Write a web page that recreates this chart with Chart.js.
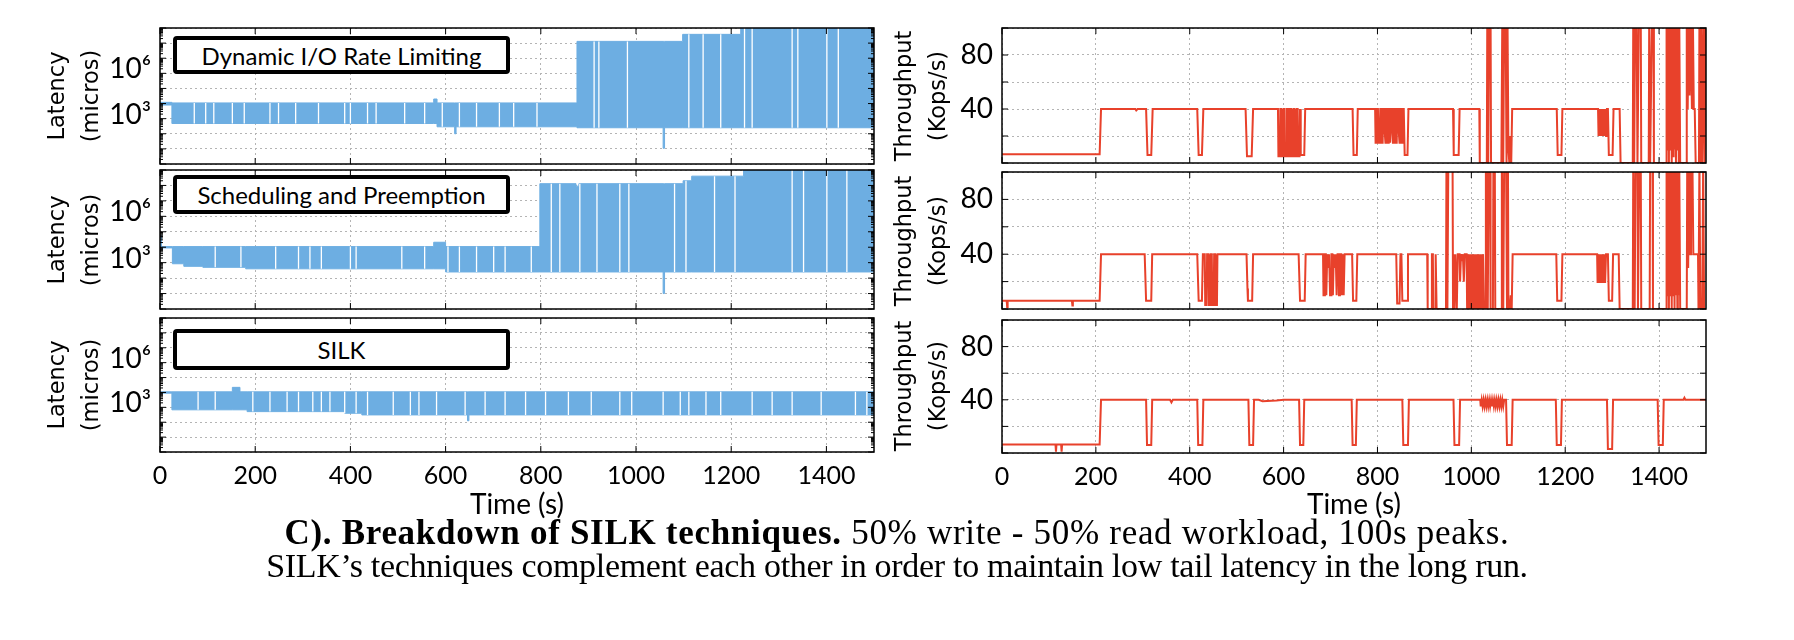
<!DOCTYPE html>
<html>
<head>
<meta charset="utf-8">
<script src="https://cdn.jsdelivr.net/npm/chart.js@4.4.0/dist/chart.umd.min.js"></script>
<style>
  body { margin: 0; background: #fff; }
  #page { position: relative; width: 1794px; height: 640px; overflow: hidden; background: #fff; }
  canvas { position: absolute; }
  .ytitle { position: absolute; font-family: 'DejaVu Sans', sans-serif; font-size: 22.5px; line-height: 34px;
            text-align: center; white-space: nowrap; color: #000; transform: translate(-50%, -50%) rotate(-90deg); }
  .xtitle { position: absolute; font-family: Lato, sans-serif; font-size: 28px; white-space: nowrap;
            transform: translate(-50%, -50%); }
  .tag { position: absolute; left: 173px; width: 337px; box-sizing: border-box; border: 4px solid #000;
         border-radius: 4px; background: #fff; font-family: Lato, sans-serif; font-size: 24px;
         display: flex; align-items: center; justify-content: center; }
  .caption { position: absolute; left: 0; width: 1794px; text-align: center; white-space: nowrap;
             font-family: 'Liberation Serif', 'Times New Roman', serif; font-size: 34px; line-height: 33px; }
</style>
</head>
<body>
<div id="page">
  <canvas id="lat1" width="880" height="144" style="left:0;top:24px"></canvas>
  <canvas id="lat2" width="880" height="147" style="left:0;top:166px"></canvas>
  <canvas id="lat3" width="880" height="182" style="left:0;top:314px"></canvas>
  <canvas id="tp1" width="832" height="143" style="left:880px;top:24px"></canvas>
  <canvas id="tp2" width="832" height="145" style="left:880px;top:168px"></canvas>
  <canvas id="tp3" width="832" height="181" style="left:880px;top:316px"></canvas>

  <div class="ytitle" style="left:73px;top:96px">Latency<br>(micros)</div>
  <div class="ytitle" style="left:73px;top:240px">Latency<br>(micros)</div>
  <div class="ytitle" style="left:73px;top:385px">Latency<br>(micros)</div>
  <div class="ytitle" style="left:920px;top:96px">Throughput<br>(Kops/s)</div>
  <div class="ytitle" style="left:920px;top:241px">Throughput<br>(Kops/s)</div>
  <div class="ytitle" style="left:920px;top:386px">Throughput<br>(Kops/s)</div>

  <div class="tag" style="top:36px;height:38px">Dynamic I/O Rate Limiting</div>
  <div class="tag" style="top:175px;height:39px">Scheduling and Preemption</div>
  <div class="tag" style="top:329px;height:41px">SILK</div>

  <div class="xtitle" style="left:517px;top:503px">Time (s)</div>
  <div class="xtitle" style="left:1354px;top:503px">Time (s)</div>

  <div class="caption" style="top:516px;font-size:35px;letter-spacing:0.7px"><b>C). Breakdown of SILK techniques.</b> 50% write - 50% read workload, 100s peaks.</div>
  <div class="caption" style="top:549px;letter-spacing:-0.3px">SILK’s techniques complement each other in order to maintain low tail latency in the long run.</div>
</div>

<script>
// axis ticks
const xTicks = [0, 200, 400, 600, 800, 1000, 1200, 1400];
const latTicks = [1, 10, 100, 1e3, 1e4, 1e5, 1e6, 1e7, 1e8, 1e9];
const latTickLabels = { 1000: '10³', 1000000: '10⁶' };
const tpTicks = [0, 20, 40, 60, 80, 100];
const tpTickLabels = [40, 80];

// latency band (micros): segment start times, upper and lower envelope
const latTime1 = [0, 25, 575, 582, 619, 622, 876, 1057, 1060, 1098, 1220, 1500];
const latHigh1 = [12000, 11000, 20000, 11000, 11000, 11000, 1.3e8, 1.3e8, 1.3e8, 3.8e8, 2e9, 2e9];
const latLow1 = [8000, 480, 480, 290, 100, 290, 250, 11, 250, 250, 250, 250];
const latGaps1 = [72, 96, 113, 152, 177, 231, 249, 285, 333, 388, 400, 436, 454, 514, 556, 593, 629, 665,
  713, 743, 792, 912, 922, 982, 1111, 1141, 1178, 1228, 1244, 1328, 1340, 1401, 1425];

const latTime2 = [0, 3, 26, 50, 90, 180, 575, 600, 798, 874, 880, 1057, 1060, 1099, 1117, 1226, 1500];
const latHigh2 = [56000, 11000, 11000, 11000, 11000, 11000, 21000, 11000, 1.3e8, 9e7, 1.3e8, 1.3e8, 1.3e8, 2e8, 4e8, 2e9, 2e9];
const latLow2 = [11000, 9000, 850, 580, 500, 400, 400, 250, 250, 250, 250, 10, 250, 250, 250, 250, 250];
const latGaps2 = [116, 170, 243, 291, 315, 339, 400, 412, 508, 556, 605, 629, 665, 701, 725, 780, 822, 840,
  882, 918, 966, 985, 1081, 1105, 1165, 1208, 1328, 1352, 1401, 1443];

const latTime3 = [0, 25, 152, 168, 183, 388, 424, 646, 649, 1500];
const latHigh3 = [11000, 11000, 22000, 11000, 11000, 11000, 11000, 11000, 11000, 11000];
const latLow3 = [9000, 680, 680, 680, 515, 400, 310, 125, 310, 310];
const latGaps3 = [80, 116, 195, 231, 267, 291, 321, 339, 357, 388, 412, 436, 490, 526, 544, 581, 641, 683,
  725, 768, 810, 858, 906, 966, 991, 1057, 1093, 1111, 1147, 1178, 1244, 1286, 1328, 1389, 1461, 1485];

// throughput (Kops/s): [time, value]; values above 100 run off the top of the panel
const throughput1 = [[0,6.5],[208,6.5],[211,40],[284,40],[286,39],[289,40],[307,40],[310,6],[318,6],[321,40],
  [416,40],[419,6],[426,6],[429,40],[519,40],[522,5],[532,5],[535,40],
  [588,40],[589,5],[592,5],[593,40],[595,40],[596,5],[599,5],[600,40],[602,40],[603,5],[606,5],[607,40],
  [609,40],[610,5],[612,5],[613,40],[616,40],[617,5],[620,5],[621,40],[623,40],[624,5],[627,5],[628,40],
  [630,40],[631,5],[634,5],[635,40],[636,40],[637,6],[644,6],[646,40],
  [747,40],[749,6],[756,6],[758,40],[794,40],[795,40],[796,15],[798,15],[799,40],[801,40],[802,25],[803,15],
  [805,15],[806,40],[808,40],[809,15],[811,15],[812,40],[814,40],[815,25],[817,15],[818,40],[820,40],[821,15],
  [823,15],[824,40],[826,40],[827,15],[829,25],[830,40],[832,40],[833,15],[835,15],[836,40],[838,40],[839,15],
  [841,15],[842,40],[844,40],[845,25],[847,15],[848,40],[850,40],[851,15],[853,15],[854,40],
  [856,40],[858,6],[864,6],[866,40],[961,40],[962,25],[963,6],[973,6],[975,40],[1017,40],
  [1018,0],[1033,0],[1034,110],[1036,0],[1038,110],[1041,110],[1042,0],[1064,0],[1066,110],[1068,0],
  [1070,110],[1073,110],[1075,0],[1077,110],[1079,10],[1081,0],[1083,20],[1085,0],[1087,40],
  [1182,40],[1184,6],[1192,6],[1194,40],[1270,40],[1271,20],[1273,40],[1275,20],[1277,40],[1279,20],[1281,40],
  [1283,20],[1285,40],[1287,20],[1289,40],[1291,40],[1293,6],[1301,6],[1303,40],[1316,40],[1318,0],
  [1344,0],[1345,110],[1347,0],[1349,110],[1352,110],[1354,0],[1357,110],[1361,110],[1362,0],[1378,0],
  [1379,110],[1381,0],[1385,110],[1388,110],[1389,0],[1415,0],
  [1416,110],[1418,10],[1419,110],[1421,0],[1422,110],[1424,10],[1425,110],[1427,0],[1428,110],[1430,5],
  [1431,110],[1433,10],[1434,110],[1436,0],[1437,110],[1439,10],[1440,110],[1442,0],[1443,110],[1445,0],
  [1458,0],[1459,110],[1461,40],[1463,110],[1465,50],[1467,110],[1470,40],[1472,110],[1474,40],[1476,40],
  [1478,0],[1485,0],[1486,110],[1488,0],[1490,110],[1492,0],[1495,110],[1497,0],[1499,110],[1500,110]];

const throughput2 = [[0,6],[10,6],[11,1.5],[12,6],[149,6],[150,2.5],[151,6],[208,6],[211,40],[304,40],[307,6],
  [318,6],[320,40],[416,40],[419,6],[426,6],[428,40],[432,40],[433,3],[436,3],[437,40],[440,40],[441,3],
  [444,3],[445,40],[447,40],[448,3],[451,3],[452,40],[454,40],[455,3],[458,3],[459,40],
  [521,40],[523,15],[524,6],[533,6],[535,40],[632,40],[635,6],[645,6],[647,40],[684,40],
  [685,10],[687,10],[688,40],[690,40],[691,10],[693,40],[695,30],[697,40],[699,10],[701,10],[702,40],
  [704,40],[705,10],[707,40],[709,30],[711,40],[713,10],[715,40],[717,40],[718,10],[720,10],[721,40],
  [723,40],[724,10],[726,40],[728,10],[730,40],
  [746,40],[748,6],[755,6],[757,40],[840,40],[842,4],[847,4],[849,40],[851,40],[853,6],[863,6],[865,40],
  [906,40],[907,0],[915,0],[916,40],[918,40],[919,0],[923,0],[924,40],[926,0],[946,0],[947,110],[949,0],
  [951,110],[960,110],[961,0],[962,40],[964,0],[966,40],[969,0],[971,40],[975,40],[976,20],[978,40],
  [980,35],[982,40],[984,20],[986,40],[990,40],[991,0],[993,40],[995,0],[997,40],[999,0],[1001,40],
  [1003,0],[1005,40],[1007,0],[1009,40],[1011,0],[1013,40],[1015,0],[1017,40],[1019,0],[1021,40],
  [1023,0],[1025,40],[1027,0],[1030,0],[1031,110],[1034,110],[1035,0],[1037,110],[1040,110],[1041,0],
  [1046,0],[1047,110],[1050,110],[1051,0],[1064,0],[1065,110],[1068,0],[1070,110],[1074,110],[1076,0],
  [1078,110],[1079,5],[1082,0],[1084,10],[1086,0],[1088,40],
  [1181,40],[1183,6],[1192,6],[1194,40],[1268,40],[1269,19],[1271,40],[1273,19],[1275,40],[1277,19],
  [1279,40],[1281,19],[1283,40],[1285,19],[1287,40],[1291,40],[1293,6],[1300,6],[1302,40],[1314,40],
  [1316,0],[1344,0],[1345,110],[1348,0],[1350,110],[1354,110],[1355,0],[1358,110],[1361,110],[1362,0],
  [1380,0],[1381,110],[1386,110],[1387,0],[1415,0],
  [1416,110],[1418,10],[1419,110],[1421,0],[1422,110],[1424,10],[1425,110],[1427,0],[1428,110],[1430,10],
  [1431,110],[1433,0],[1434,110],[1436,10],[1437,110],[1439,0],[1440,110],[1442,10],[1443,110],[1445,0],
  [1459,0],[1460,110],[1462,30],[1464,110],[1466,40],[1468,110],[1471,110],[1473,40],[1483,40],[1484,0],
  [1486,110],[1488,0],[1492,0],[1494,110],[1496,0],[1500,0]];

const throughput3 = [[0,6.3],[114,6.3],[115,1],[116,6.3],[126,6.3],[127,1],[128,6.3],[208,6.3],[211,40],
  [307,40],[309,6],[318,6],[320,40],[358,40],[361,38],[364,40],[416,40],[418,6],[427,6],[429,40],
  [525,40],[527,6],[535,6],[537,40],[547,40],[555,39],[585,39.5],[600,40],[633,40],[635,6],[642,6],[644,40],
  [745,40],[747,6],[754,6],[756,40],[853,40],[855,6],[865,6],[867,40],[962,40],[964,6],[974,6],[976,40],
  [1019,40],[1020,35],[1022,40],[1024,35],[1026,40],[1028,35],[1030,40],[1032,35],[1034,40],[1036,35],
  [1038,40],[1040,35],[1042,40],[1044,35],[1046,40],[1048,35],[1050,40],[1052,35],[1054,40],[1056,35],
  [1058,40],[1060,35],[1062,40],[1064,35],[1066,40],[1068,35],[1070,40],
  [1074,40],[1076,6],[1086,6],[1088,40],[1180,40],[1182,6],[1191,6],[1193,40],[1289,40],[1291,3],[1300,3],
  [1302,40],[1397,40],[1399,6],[1408,6],[1410,40],[1452,40],[1454,41.5],[1456,40],[1500,40]];

const bandColor = '#6daee2';
const lineColor = '#e8412b';
const gridColor = '#b4b4b4';
const xTickFont = { family: 'Lato', size: 25 };
const yTickFont = { family: 'Lato', size: 28 };

// value of a stepped envelope at time t
function envelopeAt(times, vals, t) {
  let i = 0;
  while (i + 1 < times.length && times[i + 1] <= t) i++;
  return vals[i];
}

// gnuplot-style frame: border plus inward tick marks on all four sides
const framePlugin = {
  id: 'frame',
  afterDatasetsDraw(chart) {
    const { ctx, chartArea: a, scales } = chart;
    const seg = (x1, y1, x2, y2) => { ctx.beginPath(); ctx.moveTo(x1, y1); ctx.lineTo(x2, y2); ctx.stroke(); };
    ctx.save();
    ctx.strokeStyle = '#000';
    ctx.lineWidth = 1;
    scales.x.ticks.forEach(t => {
      const px = scales.x.getPixelForValue(t.value);
      seg(px, a.top, px, a.top + 6);
      seg(px, a.bottom, px, a.bottom - 6);
    });
    scales.y.ticks.forEach(t => {
      const py = scales.y.getPixelForValue(t.value);
      seg(a.left, py, a.left + 6, py);
      seg(a.right, py, a.right - 6, py);
    });
    if (scales.y.type === 'logarithmic') {
      for (let e = 0; e < 9; e++) {
        for (let k = 2; k < 10; k++) {
          const py = scales.y.getPixelForValue(k * Math.pow(10, e));
          seg(a.left, py, a.left + 3, py);
          seg(a.right, py, a.right - 3, py);
        }
      }
    }
    ctx.lineWidth = 1.5;
    ctx.strokeRect(a.left, a.top, a.right - a.left, a.bottom - a.top);
    ctx.restore();
  }
};

function xScale(showLabels) {
  return {
    type: 'linear', min: 0, max: 1500,
    afterBuildTicks: s => { s.ticks = xTicks.map(v => ({ value: v })); },
    afterFit: s => { s.height = showLabels ? 44 : 4; s.paddingLeft = 0; s.paddingRight = 0; },
    grid: { color: gridColor, lineWidth: 1, drawTicks: false },
    border: { display: false, dash: [2, 3] },
    ticks: { display: showLabels, callback: v => String(v), font: xTickFont, color: '#000', padding: 9,
             maxRotation: 0, autoSkip: false }
  };
}

function baseOptions(yScale, showLabels, yWidth) {
  yScale.afterFit = s => { s.width = yWidth; s.paddingTop = 0; s.paddingBottom = 0; };
  return {
    responsive: false,
    animation: false,
    layout: { padding: { top: 4, right: 6, left: 0, bottom: 0 } },
    plugins: { legend: { display: false }, tooltip: { enabled: false } },
    elements: { point: { radius: 0 } },
    scales: { x: xScale(showLabels), y: yScale }
  };
}

function latencyChart(id, times, highs, lows, gaps, showLabels) {
  const gapData = gaps.flatMap(t => [
    { x: t, y: envelopeAt(times, lows, t) },
    { x: t, y: envelopeAt(times, highs, t) },
    { x: t, y: null }
  ]);
  const yScale = {
    type: 'logarithmic', min: 1, max: 1e9,
    afterBuildTicks: s => { s.ticks = latTicks.map(v => ({ value: v })); },
    grid: { color: gridColor, lineWidth: 1, drawTicks: false },
    border: { display: false, dash: [2, 3] },
    ticks: { callback: v => latTickLabels[v] || '', font: yTickFont, color: '#000', padding: 9,
             autoSkip: false, labelOffset: -4 }
  };
  // stepped: true holds each value until the next time point
  new Chart(document.getElementById(id), {
    type: 'line',
    data: {
      datasets: [
        { data: gapData, borderColor: '#fff', borderWidth: 1.3, spanGaps: false, fill: false },
        { data: times.map((t, i) => ({ x: t, y: highs[i] })), stepped: true, fill: '+1',
          borderColor: bandColor, backgroundColor: bandColor, borderWidth: 1 },
        { data: times.map((t, i) => ({ x: t, y: lows[i] })), stepped: true, fill: false,
          borderColor: bandColor, borderWidth: 1 }
      ]
    },
    options: baseOptions(yScale, showLabels, 160),
    plugins: [framePlugin]
  });
}

function throughputChart(id, points, showLabels) {
  const yScale = {
    type: 'linear', min: 0, max: 100,
    afterBuildTicks: s => { s.ticks = tpTicks.map(v => ({ value: v })); },
    grid: { color: gridColor, lineWidth: 1, drawTicks: false },
    border: { display: false, dash: [2, 3] },
    ticks: { callback: v => tpTickLabels.includes(v) ? String(v) : '', font: yTickFont, color: '#000',
             padding: 9, autoSkip: false }
  };
  new Chart(document.getElementById(id), {
    type: 'line',
    data: {
      datasets: [{ data: points.map(([t, v]) => ({ x: t, y: v })), borderColor: lineColor,
                   borderWidth: 2, fill: false, tension: 0 }]
    },
    options: baseOptions(yScale, showLabels, 122),
    plugins: [framePlugin]
  });
}

latencyChart('lat1', latTime1, latHigh1, latLow1, latGaps1, false);
latencyChart('lat2', latTime2, latHigh2, latLow2, latGaps2, false);
latencyChart('lat3', latTime3, latHigh3, latLow3, latGaps3, true);
throughputChart('tp1', throughput1, false);
throughputChart('tp2', throughput2, false);
throughputChart('tp3', throughput3, true);
</script>
</body>
</html>
